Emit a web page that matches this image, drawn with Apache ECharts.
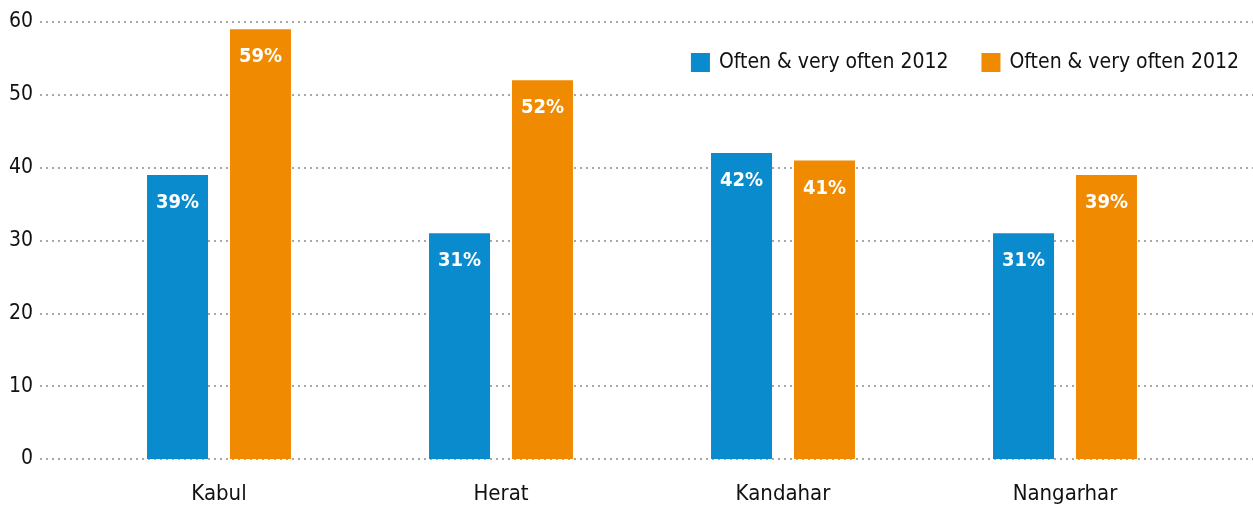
<!DOCTYPE html>
<html>
<head>
<meta charset="utf-8">
<script src="https://cdn.jsdelivr.net/npm/echarts@6/dist/echarts.min.js"></script>
<style>
  html, body { margin: 0; padding: 0; background: #fff; }
  #chart { width: 1253px; height: 506px; }
</style>
</head>
<body>
<div id="chart"></div>
<script>
const provinces = ['Kabul', 'Herat', 'Kandahar', 'Nangarhar']
const seriesNames = ['Often & very often 2012', 'Often & very often 2012 ']
const blueValues = [39, 31, 42, 31]
const orangeValues = [59, 52, 41, 39]
const yTicks = [0, 10, 20, 30, 40, 50, 60]

const font = '"Liberation Sans Narrow", "DejaVu Sans Condensed", sans-serif'
const colors = ['#0a8bcd', '#f08a00']

const chart = echarts.init(document.getElementById('chart'))

const barLabel = {
  show: true,
  position: 'insideTop',
  distance: 18,
  color: '#fff',
  fontFamily: font,
  fontWeight: 'bold',
  fontSize: 20,
  formatter: p => p.value + '%'
}

const option = {
  animation: false,
  color: colors,
  textStyle: { fontFamily: font },
  legend: {
    top: 47,
    right: 3,
    itemWidth: 19,
    itemHeight: 19,
    itemGap: 33,
    icon: 'rect',
    textStyle: { fontSize: 21, color: '#111', fontFamily: font, padding: [0, 0, 0, 4] },
    data: seriesNames
  },
  grid: [
    // grid carrying the dotted gridlines and y labels
    { left: 40, right: 0, top: 22, bottom: 47 },
    // grid carrying the bars
    { left: 78, right: 47, top: 22, bottom: 47 }
  ],
  xAxis: [
    { gridIndex: 0, type: 'category', data: provinces, show: false },
    {
      gridIndex: 1,
      type: 'category',
      data: provinces,
      axisLine: { show: false },
      axisTick: { show: false },
      axisLabel: { fontSize: 22, color: '#111', margin: 24, fontFamily: font }
    }
  ],
  yAxis: [
    {
      gridIndex: 0,
      type: 'value',
      min: yTicks[0],
      max: yTicks[yTicks.length - 1],
      interval: 10,
      axisLine: { show: false },
      axisTick: { show: false },
      axisLabel: { fontSize: 21, color: '#111', margin: 7, fontFamily: font },
      splitLine: { lineStyle: { color: '#a8a8a8', width: 2, type: [2, 4] } }
    },
    {
      gridIndex: 1,
      type: 'value',
      min: 0,
      max: 60,
      interval: 10,
      show: false,
      splitLine: { show: false }
    }
  ],
  series: [
    {
      name: seriesNames[0],
      type: 'bar',
      xAxisIndex: 1,
      yAxisIndex: 1,
      barWidth: 61,
      barGap: '36%',
      data: blueValues,
      label: barLabel
    },
    {
      name: seriesNames[1],
      type: 'bar',
      xAxisIndex: 1,
      yAxisIndex: 1,
      barWidth: 61,
      barGap: '36%',
      data: orangeValues,
      label: barLabel
    }
  ]
}

chart.setOption(option)
</script>
</body>
</html>
